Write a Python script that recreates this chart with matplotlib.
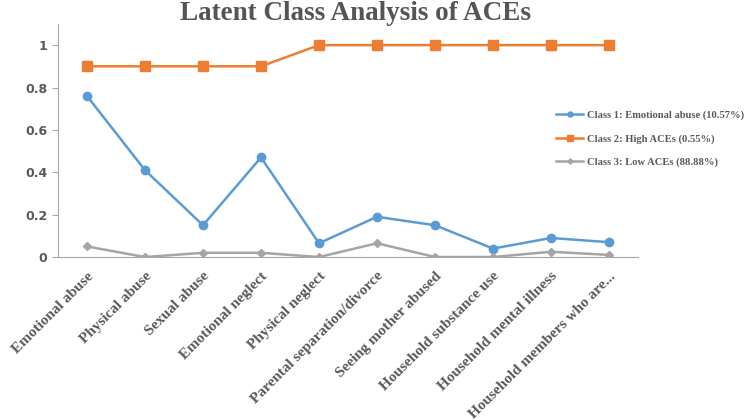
import matplotlib.pyplot as plt

categories = ['Emotional abuse', 'Physical abuse', 'Sexual abuse', 'Emotional neglect',
              'Physical neglect', 'Parental separation/divorce', 'Seeing mother abused',
              'Household substance use', 'Household mental illness',
              'Household members who are...']
class1 = [0.76, 0.41, 0.15, 0.47, 0.065, 0.19, 0.15, 0.04, 0.09, 0.07]
class2 = [0.9, 0.9, 0.9, 0.9, 1.0, 1.0, 1.0, 1.0, 1.0, 1.0]
class3 = [0.05, 0.0, 0.02, 0.02, 0.0, 0.065, 0.0, 0.0, 0.025, 0.01]
labels = ['Class 1: Emotional abuse (10.57%)', 'Class 2: High ACEs (0.55%)',
          'Class 3: Low ACEs (88.88%)']

fig = plt.figure(figsize=(7.48, 4.2), dpi=100)
ax = fig.add_axes([0.0775, 0.388, 0.7755, 0.555])

x = range(len(categories))
ax.plot(x, class1, '-o', color='#5B9BD5', lw=1.8, ms=6, label=labels[0])
ax.plot(x, class2, '-s', color='#ED7D31', lw=1.8, ms=7, label=labels[1])
ax.plot(x, class3, '-D', color='#A5A5A5', lw=1.8, ms=4.5, label=labels[2])

ax.set_xlim(-0.5, len(categories) - 0.5)
ax.set_ylim(0, 1.1)
ax.set_yticks([0, 0.2, 0.4, 0.6, 0.8, 1.0])
ax.set_yticklabels(['0', '0.2', '0.4', '0.6', '0.8', '1'])
ax.set_xticks(list(x))
ax.set_xticklabels(categories, rotation=45, ha='right', rotation_mode='anchor',
                   family='Liberation Serif', fontweight='bold', fontsize=11,
                   color='#595959')
for t in ax.get_yticklabels():
    t.set_fontsize(9)
    t.set_color('#595959')
    t.set_fontweight('bold')

for s in ['top', 'right']:
    ax.spines[s].set_visible(False)
for s in ['left', 'bottom']:
    ax.spines[s].set_color('#A6A6A6')
ax.tick_params(axis='y', length=4, color='#A6A6A6')
ax.tick_params(axis='x', length=0, pad=9)

fig.text(0.475, 0.952, 'Latent Class Analysis of ACEs', ha='center', va='baseline',
         family='Liberation Serif', fontweight='bold', fontsize=19.5, color='#555555')

ax.legend(loc='upper left', bbox_to_anchor=(556 / 748, 1 - 110 / 420),
          bbox_transform=fig.transFigure, borderaxespad=0, borderpad=0,
          frameon=False, prop={'family': 'Liberation Serif', 'weight': 'bold', 'size': 7.6},
          labelcolor='#595959', handlelength=2.6, handletextpad=0.3,
          labelspacing=1.35, markerscale=0.6)

fig.savefig('out.png', dpi=100)
